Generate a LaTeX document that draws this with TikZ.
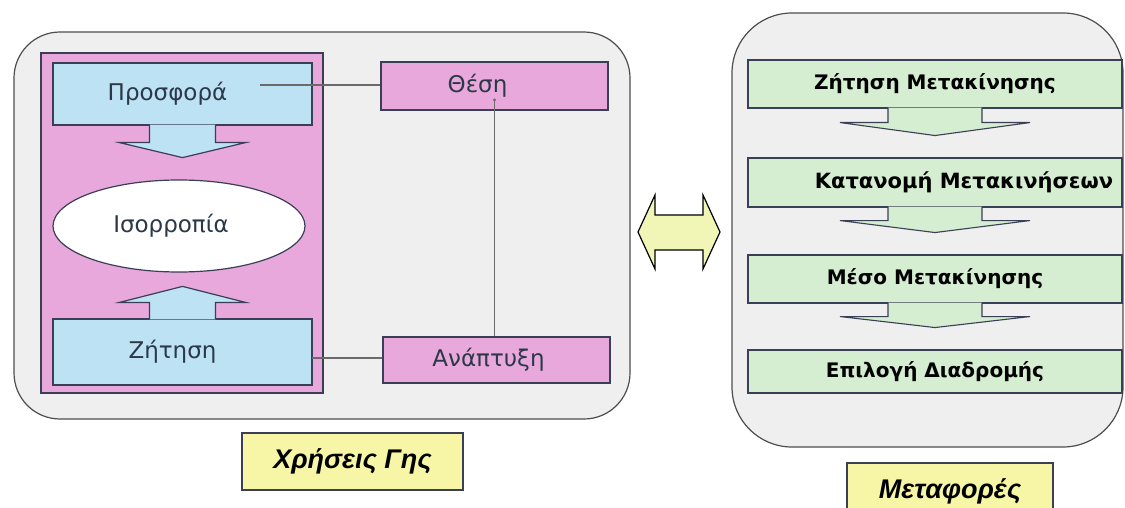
\documentclass[tikz,border=0pt]{standalone}
\usepackage{fontspec}
\setmainfont{DejaVu Sans}
\newfontfamily\tagfont{Liberation Sans}
\usetikzlibrary{calc,shapes.geometric}

\definecolor{panelbg}{HTML}{EFEFEF}
\definecolor{panelline}{HTML}{4E4E4E}
\definecolor{pinkfill}{HTML}{E8A8DC}
\definecolor{bluefill}{HTML}{BDE2F3}
\definecolor{greenfill}{HTML}{D5EDD0}
\definecolor{tagfill}{HTML}{F7F5A6}
\definecolor{arrowfill}{HTML}{F1F5B6}
\definecolor{edgeink}{HTML}{3A3F55}
\definecolor{textink}{HTML}{2A3848}
\definecolor{linkgray}{HTML}{6A6A6A}

% block arrow hanging from a box edge:
% #1 style, #2 anchor, #3 stem half width, #4 head half width,
% #5 head base offset, #6 tip offset, #7 start offset (into the box)
\newcommand\stemarrow[7]{%
  \filldraw[#1] ($(#2)+(-#3,#7)$) -- ($(#2)+(-#3,#5)$) -- ($(#2)+(-#4,#5)$)
    -- ($(#2)+(0,#6)$) -- ($(#2)+(#4,#5)$) -- ($(#2)+(#3,#5)$) -- ($(#2)+(#3,#7)$);}
% text set off-centre inside its box: #1 shift (pt, positive = left), #2 text
\newcommand\leftset[2]{#2\hspace*{#1pt}}

\tikzset{
  panel/.style={draw=panelline, line width=1.2pt, fill=panelbg, inner sep=0pt},
  pinkframe/.style={draw=edgeink, line width=1.6pt, fill=pinkfill, inner sep=0pt,
    minimum width=282pt, minimum height=340pt},
  bluebox/.style={draw=edgeink, line width=1.2pt, fill=bluefill, inner sep=0pt,
    minimum width=259pt, font=\fontsize{23}{25}\selectfont, text=textink},
  pinkbox/.style={draw=edgeink, line width=1.1pt, fill=pinkfill, inner sep=0pt,
    minimum width=227pt, font=\fontsize{23}{25}\selectfont, text=textink},
  greenbox/.style={draw=edgeink, line width=1.1pt, fill=greenfill, inner sep=0pt,
    minimum width=374pt, font=\bfseries\fontsize{20}{22}\selectfont, text=black},
  bluearrow/.style={fill=bluefill, draw=edgeink, line width=1.2pt, line join=miter},
  greenarrow/.style={fill=greenfill, draw=edgeink, line width=1.1pt, line join=miter},
  tagbox/.style={draw=edgeink, line width=1.4pt, fill=tagfill, inner sep=0pt,
    font=\tagfont\bfseries\itshape\fontsize{27}{29}\selectfont, text=black},
  link/.style={draw=linkgray, line width=1.1pt},
}

\begin{document}
\begin{tikzpicture}[x=1pt, y=-1pt]
\useasboundingbox (0,0) rectangle (1125,508);
\clip (0,0) rectangle (1125,508);
\fill[white] (0,0) rectangle (1125,508);

% ---------- land use panel ----------
\node[panel, rounded corners=46pt, minimum width=616pt, minimum height=387pt]
  (landuse) at (322,225.5) {};
\node[pinkframe] (market) at (182,223) {};

\node[bluebox, minimum height=62pt] (supply) at (182.5,94) {\leftset{30}{Προσφορά}};
\node[bluebox, minimum height=66pt] (demand) at (182.5,352) {\leftset{20}{Ζήτηση}};

\stemarrow{bluearrow}{supply.south}{33}{63}{17}{32}{-1}
\stemarrow{bluearrow}{demand.north}{33}{63}{-16}{-32}{1}

\node[ellipse, draw=edgeink, line width=1.2pt, fill=white, inner sep=0pt,
  minimum width=252pt, minimum height=92pt, font=\fontsize{23}{25}\selectfont,
  text=textink] (balance) at (179,226) {\leftset{16}{Ισορροπία}};

\node[pinkbox, minimum height=48pt] (location) at (494.5,86) {\leftset{34}{Θέση}};
\node[pinkbox, minimum height=46pt] (development) at (496.5,360)
  {\leftset{16}{Ανάπτυξη}};

\coordinate (offerline) at (260,85);
\draw[link] (offerline) -- (offerline -| location.west);
\coordinate (locdot) at (494.5,100);
\draw[link] (locdot) -- (locdot |- development.north);
\fill[linkgray] (locdot) circle (1.6pt);
\coordinate (demandport) at (312,358);
\draw[link] (demandport) -- (demandport -| development.west);

\node[tagbox, minimum width=221pt, minimum height=57pt] (landtag) at (352.5,461.5)
  {Χρήσεις Γης};

% ---------- transport panel ----------
\node[panel, rounded corners=60pt, minimum width=391pt, minimum height=434pt]
  (transport) at (927.5,230) {};

\node[greenbox, minimum height=48pt] (trips) at (935,84) {Ζήτηση Μετακίνησης};
\node[greenbox, minimum height=49pt] (distribution) at (935,182.5)
  {\hspace*{58pt}\fontsize{21}{23}\selectfont Κατανομή Μετακινήσεων};
\node[greenbox, minimum height=48pt] (mode) at (935,279) {Μέσο Μετακίνησης};
\node[greenbox, minimum height=43pt] (route) at (935,371.5) {Επιλογή Διαδρομής};

\stemarrow{greenarrow}{trips.south}{47}{95}{14}{27}{-1}
\stemarrow{greenarrow}{distribution.south}{47}{95}{13}{25}{-1}
\stemarrow{greenarrow}{mode.south}{47}{95}{13}{24}{-1}

\node[tagbox, minimum width=206pt, minimum height=57pt] (transtag) at (950,491.5)
  {Μεταφορές};

% ---------- two-way link between the panels ----------
\filldraw[fill=arrowfill, draw=black, line width=1.2pt, line join=miter]
  (638,232) -- (655,195) -- (655,215) -- (703,215) -- (703,195) -- (720,232)
  -- (703,269) -- (703,250) -- (655,250) -- (655,269) -- cycle;
\end{tikzpicture}
\end{document}
